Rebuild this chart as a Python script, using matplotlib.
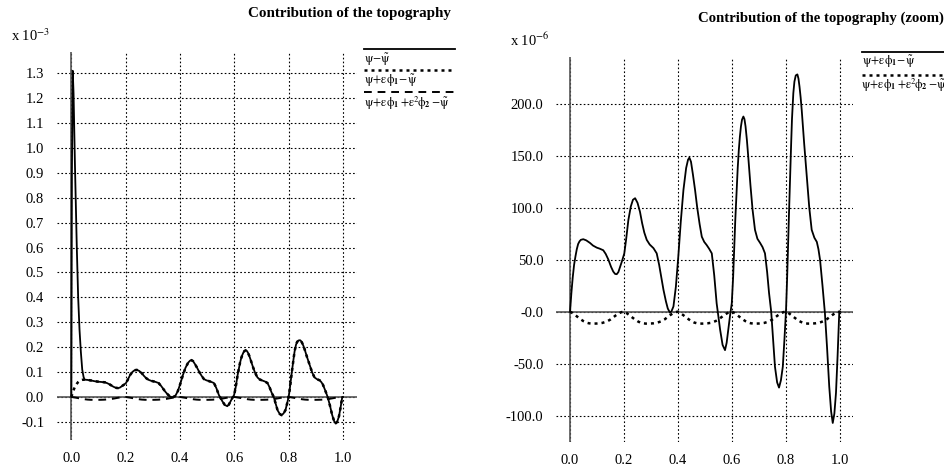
import matplotlib
matplotlib.use("Agg")
import matplotlib.pyplot as plt
from matplotlib.lines import Line2D
import numpy as np

plt.rcParams['font.family'] = ['Liberation Serif', 'DejaVu Serif']
plt.rcParams['mathtext.fontset'] = 'stix'

# ---------------- data ----------------
# psi + eps*phi1 - psi_tilde  (units of 1e-6)
osc_x = [0.000, 0.005, 0.010, 0.015, 0.020, 0.025, 0.030, 0.035, 0.040, 0.049,
         0.060, 0.074, 0.085, 0.099, 0.110, 0.123, 0.132, 0.142, 0.152, 0.160,
         0.167, 0.173, 0.179, 0.185, 0.193, 0.201, 0.208, 0.216, 0.225, 0.233,
         0.241, 0.250, 0.259, 0.267, 0.275, 0.284, 0.295, 0.309, 0.321, 0.330,
         0.338, 0.346, 0.355, 0.362, 0.370, 0.376, 0.383, 0.392, 0.401, 0.410,
         0.420, 0.430, 0.437, 0.442, 0.448, 0.455, 0.463, 0.471, 0.480, 0.488,
         0.497, 0.506, 0.515, 0.525, 0.534, 0.543, 0.550, 0.556, 0.565, 0.574,
         0.580, 0.586, 0.593, 0.599, 0.604, 0.608, 0.612, 0.617, 0.621, 0.625,
         0.629, 0.633, 0.637, 0.642, 0.646, 0.650, 0.655, 0.660, 0.668, 0.676,
         0.685, 0.694, 0.704, 0.713, 0.722, 0.730, 0.737, 0.745, 0.752, 0.759,
         0.767, 0.774, 0.781, 0.788, 0.794, 0.800, 0.804, 0.807, 0.811, 0.815,
         0.819, 0.822, 0.827, 0.831, 0.836, 0.842, 0.846, 0.850, 0.854, 0.858,
         0.867, 0.877, 0.886, 0.895, 0.905, 0.914, 0.920, 0.926, 0.935, 0.944,
         0.952, 0.960, 0.967, 0.973, 0.979, 0.985, 0.991, 0.997, 1.000]
osc_v = [0.0, 18.0, 33.0, 45.0, 53.0, 60.0, 65.0, 67.5, 69.0, 69.6,
         68.5, 66.0, 63.5, 61.5, 60.5, 59.0, 55.5, 50.0, 43.0, 38.5,
         36.2, 36.0, 38.0, 42.7, 49.0, 56.0, 70.0, 88.0, 101.0, 107.5,
         109.0, 104.5, 96.0, 85.0, 76.0, 69.0, 64.5, 61.0, 56.0, 45.0,
         33.0, 21.0, 10.0, 3.0, -1.0, 0.5, 5.0, 24.0, 53.0, 86.0,
         117.0, 138.0, 146.0, 148.0, 144.0, 132.0, 117.0, 100.0, 84.0, 72.0,
         67.0, 64.0, 60.5, 56.0, 35.0, 8.0, -6.0, -17.6, -32.0, -37.0,
         -30.0, -17.6, -3.0, 8.0, 33.0, 60.0, 88.0, 117.0, 138.0, 155.0,
         168.0, 178.0, 184.5, 187.5, 185.0, 178.0, 165.0, 149.0, 122.0, 98.0,
         78.6, 70.0, 66.0, 62.0, 56.0, 38.0, 18.0, 0.0, -27.0, -53.0,
         -68.0, -73.0, -66.0, -53.0, -27.0, 1.6, 32.0, 60.0, 95.0, 130.0,
         162.0, 185.0, 210.0, 221.0, 227.0, 228.0, 224.0, 216.0, 206.0, 194.0,
         162.0, 130.0, 100.0, 78.6, 71.0, 67.0, 60.0, 49.7, 25.0, -1.5,
         -35.0, -72.0, -96.0, -107.0, -98.0, -78.0, -42.0, -1.5, 0.0]

# psi + eps*phi1 + eps^2*phi2 - psi_tilde  (units of 1e-6)
sec_x = [0.00, 0.01, 0.02, 0.03, 0.04, 0.05, 0.06, 0.07, 0.08, 0.09,
         0.10, 0.11, 0.12, 0.13, 0.14, 0.15, 0.16, 0.17, 0.18, 0.19,
         0.20, 0.21, 0.22, 0.23, 0.24, 0.25, 0.26, 0.27, 0.28, 0.29,
         0.30, 0.31, 0.32, 0.33, 0.34, 0.35, 0.36, 0.37, 0.38, 0.39,
         0.40, 0.41, 0.42, 0.43, 0.44, 0.45, 0.46, 0.47, 0.48, 0.49,
         0.50, 0.51, 0.52, 0.53, 0.54, 0.55, 0.56, 0.57, 0.58, 0.59,
         0.60, 0.61, 0.62, 0.63, 0.64, 0.65, 0.66, 0.67, 0.68, 0.69,
         0.70, 0.71, 0.72, 0.73, 0.74, 0.75, 0.76, 0.77, 0.78, 0.79,
         0.80, 0.81, 0.82, 0.83, 0.84, 0.85, 0.86, 0.87, 0.88, 0.89,
         0.90, 0.91, 0.92, 0.93, 0.94, 0.95, 0.96, 0.97, 0.98, 0.99, 1.00]
sec_v = [0.0, -1.5, -3.5, -5.5, -7.5, -9.2, -10.5, -11.2, -11.5, -11.5,
         -11.4, -11.2, -10.8, -10.0, -9.0, -7.5, -5.5, -3.5, -1.8, -0.5,
         0.0, -1.5, -3.5, -5.5, -7.5, -9.2, -10.5, -11.2, -11.5, -11.5,
         -11.4, -11.2, -10.8, -10.0, -9.0, -7.5, -5.5, -3.5, -1.8, -0.5,
         0.0, -1.5, -3.5, -5.5, -7.5, -9.2, -10.5, -11.2, -11.5, -11.5,
         -11.4, -11.2, -10.8, -10.0, -9.0, -7.5, -5.5, -3.5, -1.8, -0.5,
         0.0, -1.5, -3.5, -5.5, -7.5, -9.2, -10.5, -11.2, -11.5, -11.5,
         -11.4, -11.2, -10.8, -10.0, -9.0, -7.5, -5.5, -3.5, -1.8, -0.5,
         0.0, -1.5, -3.5, -5.5, -7.5, -9.2, -10.5, -11.2, -11.5, -11.5,
         -11.4, -11.2, -10.8, -10.0, -9.0, -7.5, -5.5, -3.5, -1.8, -0.5, 0.0]

# psi - psi_tilde near the origin (units of 1e-3); beyond 0.046 it follows osc curve
spike_x = [0.000, 0.002, 0.005, 0.008, 0.013, 0.020, 0.025, 0.030, 0.035, 0.040, 0.045]
spike_v = [0.000, 0.900, 1.310, 1.220, 0.940, 0.600, 0.400, 0.270, 0.180, 0.110, 0.080]

left_yticks = [-0.1, 0.0, 0.1, 0.2, 0.3, 0.4, 0.5, 0.6, 0.7, 0.8, 0.9, 1.0, 1.1, 1.2, 1.3]
left_ylabels = ['-0.1', '0.0', '0.1', '0.2', '0.3', '0.4', '0.5', '0.6', '0.7',
                '0.8', '0.9', '1.0', '1.1', '1.2', '1.3']
right_yticks = [-100, -50, 0, 50, 100, 150, 200]
right_ylabels = ['-100.0', '-50.0', '-0.0', '50.0', '100.0', '150.0', '200.0']
xticks = [0.0, 0.2, 0.4, 0.6, 0.8, 1.0]
xlabels = ['0.0', '0.2', '0.4', '0.6', '0.8', '1.0']

title_left = 'Contribution of the topography'
title_right = 'Contribution of the topography (zoom)'
P = r'\mathrm{\psi}'
PT = r'\tilde{\mathrm{\psi}}'
E = r'\mathrm{\varepsilon}'
F = r'\mathrm{\phi}'
leg1 = '$' + P + r'\!-\!' + PT + '$'
leg2 = '$' + P + r'\!+\!' + E + F + r'_{\mathbf{1}}\!-\!' + PT + '$'
leg3 = ('$' + P + r'\!+\!' + E + F + r'_{\mathbf{1}}\/\!+\!' + E + r'^{2}\!' + F
        + r'_{\mathbf{2}}\/\!-\!' + PT + '$')

# ---------------- figure ----------------
W, H = 945, 468
fig = plt.figure(figsize=(W / 100, H / 100), dpi=100)

def fx(px):
    return px / W

def fy(py):
    return 1 - py / H

FS = 10.5
DOT = (0, (1.2, 1.6))

def style(ax, xlim, ylim, yt, yl):
    ax.set_xlim(*xlim)
    ax.set_ylim(*ylim)
    for s in ax.spines.values():
        s.set_visible(False)
    ax.set_xticks(xticks)
    ax.set_xticklabels(xlabels, fontsize=FS)
    ax.set_yticks(yt)
    ax.set_yticklabels(yl, fontsize=FS)
    ax.tick_params(length=0, pad=9)
    ax.grid(True, linestyle=(0, (1.5, 2)), color='black', linewidth=0.8)
    ax.axhline(0, color='#555555', lw=1.2, zorder=2)
    ax.axvline(0, color='#555555', lw=1.2, zorder=2)

# left panel
axL = fig.add_axes([fx(56.7), fy(440), fx(356.6) - fx(56.7), fy(52) - fy(440)])
style(axL, (-0.054, 1.05), (-0.1727, 1.3855), left_yticks, left_ylabels)
osc_x_a = np.array(osc_x)
osc_v_a = np.array(osc_v) / 1000.0
axL.plot(sec_x, np.array(sec_v) / 1000.0, color='black', lw=1.4,
         linestyle=(0, (4, 3)), zorder=3)
axL.plot(osc_x_a, osc_v_a, color='black', lw=1.8, linestyle=DOT, zorder=3)
mask = osc_x_a > 0.046
solid_x = list(spike_x) + list(osc_x_a[mask])
solid_v = list(spike_v) + list(osc_v_a[mask])
axL.plot(solid_x, solid_v, color='black', lw=1.3, zorder=4)

# right panel
axR = fig.add_axes([fx(556), fy(441.7), fx(853) - fx(556), fy(56.7) - fy(441.7)])
style(axR, (-0.052, 1.048), (-125, 245), right_yticks, right_ylabels)
axR.plot(sec_x, sec_v, color='black', lw=1.8, linestyle=DOT, zorder=3)
axR.plot(osc_x, osc_v, color='black', lw=1.3, zorder=4)

# titles and exponents
fig.text(fx(451), fy(13), title_left, ha='right', va='center',
         fontsize=10.8, fontweight='bold')
fig.text(fx(944), fy(18), title_right, ha='right', va='center',
         fontsize=10.6, fontweight='bold')
fig.text(fx(11), fy(36), r'x 10$^{-3}$', ha='left', va='center', fontsize=FS)
fig.text(fx(510), fy(40), r'x 10$^{-6}$', ha='left', va='center', fontsize=FS)

# legends
LFS = 8.6
def legline(x0, x1, py, ls, lw):
    fig.add_artist(Line2D([fx(x0), fx(x1)], [fy(py), fy(py)], color='black',
                          lw=lw, linestyle=ls, transform=fig.transFigure))

legline(364, 455, 49, '-', 1.3)
fig.text(fx(364), fy(60), leg1, ha='left', va='center', fontsize=LFS)
legline(364, 455, 70, DOT, 1.8)
fig.text(fx(364), fy(81), leg2, ha='left', va='center', fontsize=LFS)
legline(364, 455, 92, (0, (4, 3)), 1.4)
fig.text(fx(364), fy(103), leg3, ha='left', va='center', fontsize=LFS)

legline(862, 945, 51.7, '-', 1.3)
fig.text(fx(862), fy(62), leg2, ha='left', va='center', fontsize=LFS)
legline(862, 945, 75, DOT, 1.8)
fig.text(fx(861), fy(85.5), leg3, ha='left', va='center', fontsize=LFS)

fig.savefig('out.png', dpi=100)
